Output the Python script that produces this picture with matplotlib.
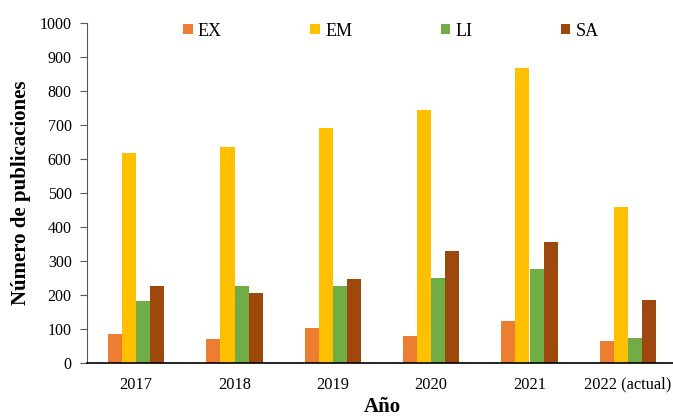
import matplotlib
matplotlib.use("Agg")
import matplotlib.pyplot as plt
import numpy as np

years = ["2017", "2018", "2019", "2020", "2021", "2022 (actual)"]
series_names = ["EX", "EM", "LI", "SA"]
ex = [83, 70, 101, 78, 122, 65]
em = [616, 634, 689, 742, 867, 458]
li = [181, 225, 225, 250, 276, 72]
sa = [225, 205, 246, 329, 354, 185]
colors = ["#ED7D31", "#FFC000", "#70AD47", "#9E480E"]

plt.rcParams['font.family'] = ['Liberation Serif', 'DejaVu Serif']

W, H = 673, 416
fig = plt.figure(figsize=(W/100, H/100), dpi=100)
ax = fig.add_axes([87/W, (H-362.7)/H, 590/W, 340/H])

x = np.arange(len(years))
bw = 0.144
data = [ex, em, li, sa]
for i, (vals, c, name) in enumerate(zip(data, colors, series_names)):
    ax.bar(x + (i - 1.5) * bw, vals, bw, color=c, label=name, zorder=2)

ax.set_xlim(-0.5, 5.5)
ax.set_ylim(0, 1000)
ax.set_yticks(range(0, 1001, 100))
ax.set_xticks(x)
ax.set_xticklabels(years)
ax.tick_params(axis='x', length=0, labelsize=11.8, pad=10)
ax.tick_params(axis='y', length=5, direction='out', labelsize=11.5, color='#595959', pad=6)
for s in ['top', 'right']:
    ax.spines[s].set_visible(False)
ax.spines['left'].set_color('#595959')
ax.spines['bottom'].set_color('#000000')
ax.spines['bottom'].set_linewidth(1.2)

ax.set_ylabel("Número de publicaciones", fontsize=15, fontweight='bold', labelpad=6)
ax.set_xlabel("Año", fontsize=15, fontweight='bold', labelpad=3)

leg = fig.legend(loc='center', bbox_to_anchor=(391/W, 1 - 31/H), ncol=4, frameon=False,
                 fontsize=13, handlelength=0.52, handleheight=0.52, handletextpad=0.3,
                 columnspacing=4.9)

fig.savefig("out.png", dpi=100)
